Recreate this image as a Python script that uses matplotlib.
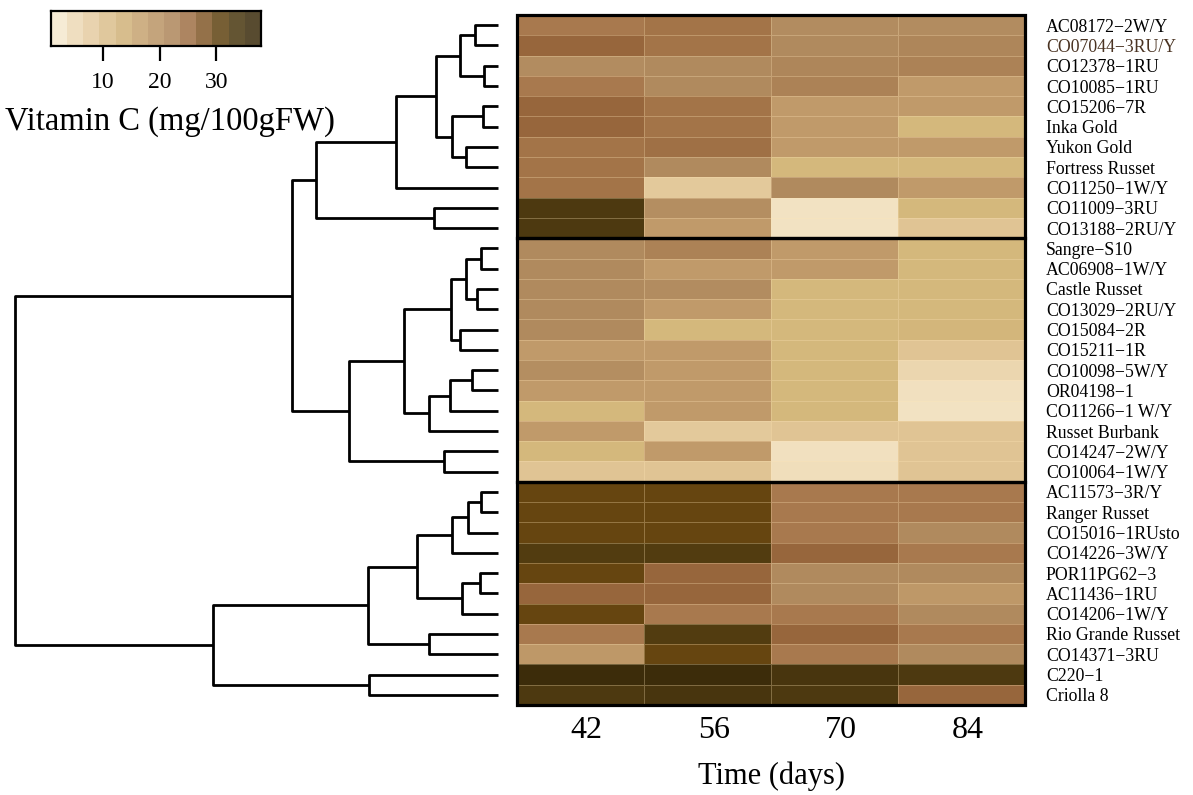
import numpy as np
import matplotlib
matplotlib.use("Agg")
import matplotlib.pyplot as plt
from matplotlib.colors import LinearSegmentedColormap, Normalize
from matplotlib.patches import Rectangle

plt.rcParams["font.family"] = ["Liberation Serif", "DejaVu Serif"]

# clones in dendrogram (display) order, top to bottom
clones = [
    "AC08172−2W/Y", "CO07044−3RU/Y", "CO12378−1RU", "CO10085−1RU", "CO15206−7R",
    "Inka Gold", "Yukon Gold", "Fortress Russet", "CO11250−1W/Y", "CO11009−3RU",
    "CO13188−2RU/Y", "Sangre−S10", "AC06908−1W/Y", "Castle Russet", "CO13029−2RU/Y",
    "CO15084−2R", "CO15211−1R", "CO10098−5W/Y", "OR04198−1", "CO11266−1 W/Y",
    "Russet Burbank", "CO14247−2W/Y", "CO10064−1W/Y", "AC11573−3R/Y", "Ranger Russet",
    "CO15016−1RUsto", "CO14226−3W/Y", "POR11PG62−3", "AC11436−1RU", "CO14206−1W/Y",
    "Rio Grande Russet", "CO14371−3RU", "C220−1", "Criolla 8",
]
days = ["42", "56", "70", "84"]

# vitamin C (mg/100gFW), columns = days 42, 56, 70, 84
vit_c = np.array([
    [24, 25, 21.5, 21.5],
    [27, 25, 22, 22.5],
    [21.5, 22, 22.5, 23],
    [24, 22, 23, 18],
    [27, 25, 18, 18],
    [27, 25, 18, 12],
    [25, 25.5, 18, 18],
    [25, 22, 12, 12],
    [25, 8, 22, 18],
    [34, 21, 2, 12],
    [34, 18, 2, 9],
    [22, 23, 18, 12],
    [22, 18, 18, 12],
    [22, 21.5, 12, 12],
    [22, 18, 12, 12],
    [22, 12, 12, 12.5],
    [18, 18, 12, 9],
    [21, 18, 12, 5],
    [18, 18, 12, 2.5],
    [12, 18, 12, 2],
    [18, 8, 9, 9],
    [12, 18, 2.5, 9],
    [9, 9, 3, 9],
    [31, 31, 24, 24],
    [31, 31, 24, 24],
    [31, 31, 24, 22],
    [33.5, 33.5, 27, 24],
    [31, 27, 22, 22],
    [27, 27, 22, 18.5],
    [31, 24, 24, 22],
    [24, 33.5, 27, 24],
    [18.5, 31, 24, 22],
    [37, 37, 35, 34],
    [34, 35, 34, 27],
])

# hierarchical clustering merges (leaves 0..33, new clusters numbered from 34)
merge_left = [0, 2, 34, 4, 6, 37, 36, 40, 9, 41,
              11, 13, 44, 15, 46, 17, 49, 50, 48, 21, 52, 43,
              23, 56, 57, 27, 59, 58, 30, 61, 32, 63, 55]
merge_right = [1, 3, 35, 5, 7, 38, 39, 8, 10, 42,
               12, 14, 45, 16, 47, 18, 19, 20, 51, 22, 53, 54,
               24, 25, 26, 28, 29, 60, 31, 62, 33, 64, 65]
merge_height = [0.48, 0.29, 0.79, 0.31, 0.66, 0.95, 1.28, 2.11, 1.33, 3.77,
                0.35, 0.43, 0.66, 0.79, 0.97, 0.54, 0.99, 1.43, 1.95, 1.12, 3.08, 4.27,
                0.35, 0.62, 0.95, 0.37, 0.75, 1.68, 1.43, 2.70, 2.68, 5.90, 10.0]

# clusters boxed in the heatmap (first row, number of rows)
groups = [(0, 11), (11, 12), (23, 11)]

cb_ticks = [10, 20, 30]
vmin, vmax = 0.8, 37.9

cmap_vals = [0.8, 2, 5, 9, 12, 18, 22, 24, 27, 31, 34, 37, 37.9]
cmap_cols = ["#f5e8ce", "#f2e2c2", "#ebd5ae", "#e0c494", "#d4b87c", "#c09a6a",
             "#b08a5e", "#a87a4e", "#97663c", "#664510", "#4e3a10", "#3c2c0a", "#3a2a0a"]
pos = [(v - vmin) / (vmax - vmin) for v in cmap_vals]
cmap = LinearSegmentedColormap.from_list("vitc", list(zip(pos, cmap_cols)))
norm = Normalize(vmin, vmax)

W, H = 1193, 795
fig = plt.figure(figsize=(W / 100, H / 100), dpi=100)


def px_axes(x0, y0, x1, y1):
    return fig.add_axes([x0 / W, 1 - y1 / H, (x1 - x0) / W, (y1 - y0) / H])


# heatmap
ax = px_axes(517, 15, 1025, 705)
n = len(clones)
ax.pcolormesh(np.arange(5), np.arange(n + 1), vit_c, cmap=cmap, norm=norm,
              edgecolors=(1.0, 0.9, 0.72, 0.3), linewidth=0.6)
ax.set_xlim(0, 4)
ax.set_ylim(n, 0)
for start, size in groups:
    ax.add_patch(Rectangle((0, start), 4, size, fill=False, ec="black", lw=2.3,
                           clip_on=False, zorder=5))
for s in ax.spines.values():
    s.set_visible(False)
ax.set_xticks(np.arange(4) + 0.55)
ax.set_xticklabels(days, fontsize=23)
ax.tick_params(axis="x", length=0, pad=8)
ax.set_xlabel("Time (days)", fontsize=22, labelpad=12)
ax.yaxis.tick_right()
ax.set_yticks(np.arange(n) + 0.5)
ax.set_yticklabels(clones, fontsize=12.8)
ax.tick_params(axis="y", length=0, pad=15)
ax.get_yticklabels()[1].set_color("#4a3322")

# dendrogram
dax = px_axes(15, 15, 498, 705)
ypos = {i: i + 0.5 for i in range(n)}
xpos = {i: 0.0 for i in range(n)}
for k, (a, b, h) in enumerate(zip(merge_left, merge_right, merge_height)):
    dax.plot([xpos[a], h, h, xpos[b]], [ypos[a], ypos[a], ypos[b], ypos[b]],
             color="black", lw=2.0, solid_capstyle="butt", clip_on=False)
    ypos[n + k] = (ypos[a] + ypos[b]) / 2
    xpos[n + k] = h
dax.set_xlim(10.0, 0.0)
dax.set_ylim(n, 0)
dax.axis("off")

# colour key
cax = px_axes(51, 11, 261, 46)
cb_x = np.linspace(vmin, vmax, 13)
cax.imshow(cb_x[np.newaxis, :], aspect="auto", cmap=cmap, norm=norm,
           extent=[vmin, vmax, 0, 1], interpolation="nearest", alpha=0.85)
cax.set_xlim(vmin, vmax)
cax.set_yticks([])
cax.set_xticks(cb_ticks)
cax.set_xticklabels([str(t) for t in cb_ticks], fontsize=17)
cax.tick_params(axis="x", length=11, width=1.6, pad=8)
for s in cax.spines.values():
    s.set_linewidth(1.6)
fig.text(5 / W, 1 - 122 / H, "Vitamin C (mg/100gFW)", fontsize=23.5,
         ha="left", va="center")

fig.savefig("out.png", dpi=100)
